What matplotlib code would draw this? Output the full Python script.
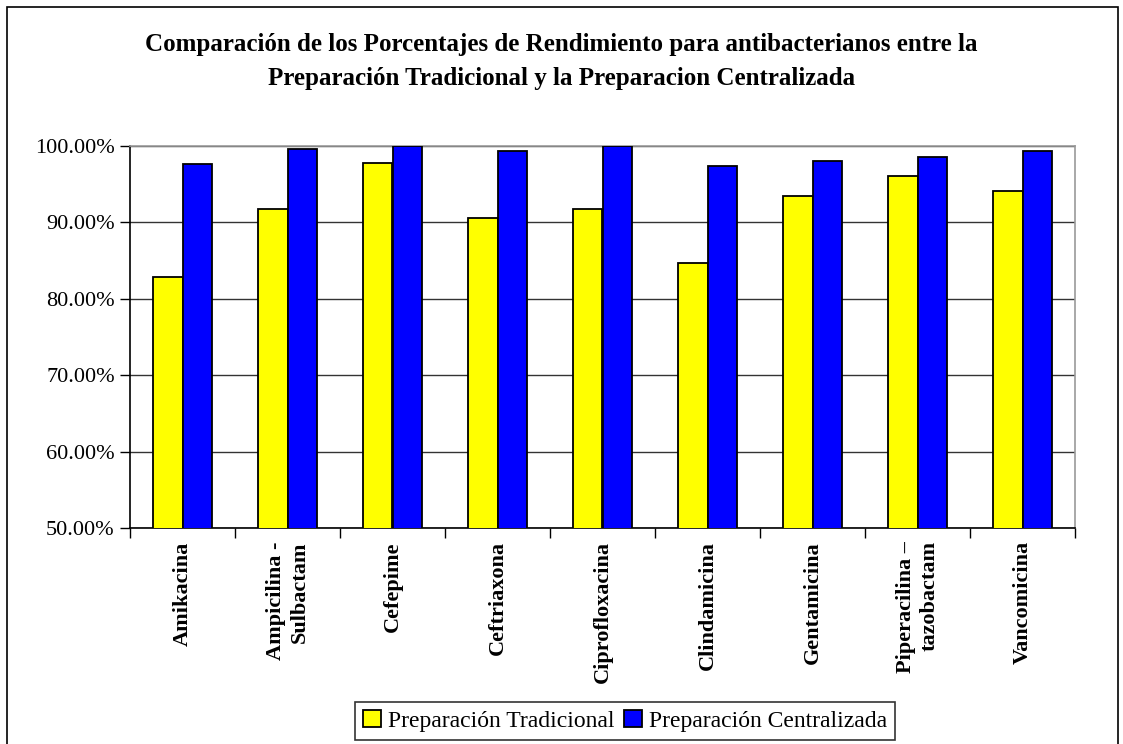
import matplotlib
matplotlib.use("Agg")
import matplotlib.pyplot as plt
import numpy as np
from matplotlib.patches import Rectangle
from matplotlib.ticker import FuncFormatter, FixedLocator

categories = ["Amikacina", "Ampicilina -\nSulbactam", "Cefepime", "Ceftriaxona",
              "Ciprofloxacina", "Clindamicina", "Gentamicina",
              "Piperacilina –\ntazobactam", "Vancomicina"]
tradicional = [82.8, 91.7, 97.8, 90.6, 91.7, 84.7, 93.45, 96.1, 94.1]
centralizada = [97.6, 99.6, 100.0, 99.35, 100.0, 97.4, 98.0, 98.5, 99.35]
series_names = ["Preparación Tradicional", "Preparación Centralizada"]
yticks = [50, 60, 70, 80, 90, 100]

plt.rcParams['font.family'] = ['Liberation Serif', 'DejaVu Serif']

fig = plt.figure(figsize=(11.23, 7.44), dpi=100)
# outer frame
fig.patches.append(Rectangle((7/1123, -0.01), (1118-7)/1123, 1 - 7/744 + 0.01,
                             transform=fig.transFigure, fill=False,
                             edgecolor='black', linewidth=1.2))

ax = fig.add_axes([130/1123, 1-528/744, (1075-130)/1123, (528-146)/744])
x = np.arange(len(categories))
w = 0.28
ax.bar(x - w/2, tradicional, width=w, color='#FFFF00', edgecolor='black',
       linewidth=1.3, label=series_names[0], zorder=3)
ax.bar(x + w/2, centralizada, width=w, color='#0000FF', edgecolor='black',
       linewidth=1.3, label=series_names[1], zorder=3)

ax.set_xlim(-0.5, len(categories) - 0.5)
ax.set_ylim(50, 100)
ax.set_yticks(yticks)
ax.yaxis.set_major_formatter(FuncFormatter(lambda v, p: f"{v:.2f}%"))
ax.tick_params(axis='y', labelsize=16, direction='out', length=7, width=1, pad=4)
ax.yaxis.grid(True, color='#333333', linewidth=1, zorder=0)
ax.set_axisbelow(True)

ax.set_xticks(x)
ax.set_xticklabels([])
ax.xaxis.set_minor_locator(FixedLocator(np.arange(len(categories) + 1) - 0.5))
ax.tick_params(axis='x', which='major', length=0)
ax.tick_params(axis='x', which='minor', length=7, width=1, direction='out')

for xi, lab in zip(x, categories):
    ax.text(xi, -0.035, lab, transform=ax.get_xaxis_transform(), rotation=90,
            ha='center', va='top', multialignment='right',
            fontsize=16, fontweight='bold', linespacing=1.25)

for s in ['left', 'bottom']:
    ax.spines[s].set_color('black')
    ax.spines[s].set_linewidth(1.2)
for s in ['right', 'top']:
    ax.spines[s].set_color('#999999')
    ax.spines[s].set_linewidth(1.2)

fig.text(0.5, 1 - 45/744, "Comparación de los Porcentajes de Rendimiento para antibacterianos entre la",
         ha='center', va='center', fontsize=18, fontweight='bold')
fig.text(0.5, 1 - 79/744, "Preparación Tradicional y la Preparacion Centralizada",
         ha='center', va='center', fontsize=18, fontweight='bold')

leg = fig.legend(loc='center', bbox_to_anchor=(625/1123, 1 - 721/744), ncol=2,
                 fontsize=17, frameon=True, fancybox=False, edgecolor='black',
                 handlelength=0.75, handleheight=0.75, handletextpad=0.3,
                 columnspacing=0.4, borderpad=0.35, borderaxespad=0)
leg.get_frame().set_linewidth(1.2)

fig.savefig("out.png", dpi=100)
